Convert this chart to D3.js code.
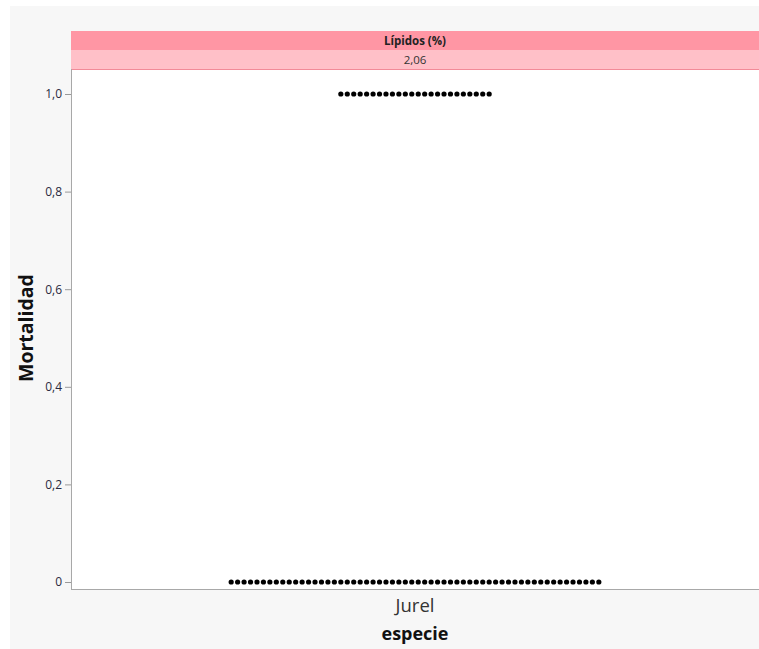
<!DOCTYPE html>
<html><head><meta charset="utf-8">
<script src="https://cdn.jsdelivr.net/npm/d3@7"></script>
<style>body{margin:0;background:#fff;}svg{display:block;font-family:"Segoe UI","Open Sans","Noto Sans",sans-serif;}</style>
</head><body>
<svg id="c" width="759" height="649"></svg>
<script>
const categories = ["Jurel"];
const mortalityLevels = [1, 0];
const mortalityCounts = [24, 58];
const yTicks = [0, 0.2, 0.4, 0.6, 0.8, 1.0];
const yTickLabels = ["0", "0,2", "0,4", "0,6", "0,8", "1,0"];
const groupTitle = "Lípidos (%)";
const groupValue = "2,06";

const svg = d3.select("#c");
const W = 759, H = 649;
const m = {left: 71, right: 759, top: 69, bottom: 589};

svg.append("rect").attr("x", 10).attr("y", 6).attr("width", W - 10).attr("height", H - 6).attr("fill", "#f7f7f7");
svg.append("rect").attr("x", m.left).attr("y", m.top).attr("width", m.right - m.left).attr("height", m.bottom - m.top).attr("fill", "#fff");

// header
svg.append("rect").attr("x", m.left).attr("y", 31).attr("width", m.right - m.left).attr("height", 19).attr("fill", "#ff96a4");
svg.append("rect").attr("x", m.left).attr("y", 50).attr("width", m.right - m.left).attr("height", 19).attr("fill", "#ffc0c8");
svg.append("line").attr("x1", m.left).attr("x2", m.right).attr("y1", 69.5).attr("y2", 69.5).attr("stroke", "#f28a98");
svg.append("text").attr("x", (m.left + m.right) / 2).attr("y", 45).attr("text-anchor", "middle").attr("font-size", 11.5).attr("font-weight", "bold").attr("fill", "#222").text(groupTitle);
svg.append("text").attr("x", (m.left + m.right) / 2).attr("y", 63.5).attr("text-anchor", "middle").attr("font-size", 11.5).attr("fill", "#333").text(groupValue);

const y = d3.scaleLinear().domain([0, 1]).range([582, 94]);
const x = d3.scaleBand().domain(categories).range([m.left, m.right]);

// y axis
const yAxis = svg.append("g").attr("transform", `translate(${m.left},0)`)
  .call(d3.axisLeft(y).tickValues(yTicks).tickFormat((d, i) => yTickLabels[i]).tickSize(6).tickPadding(3));
yAxis.select(".domain").remove();
yAxis.selectAll(".tick line").attr("stroke", "#999");
yAxis.selectAll(".tick text").attr("font-size", 12).attr("fill", "#2a2a40").attr("font-family", "'Segoe UI','Open Sans',sans-serif");

// frame lines
svg.append("line").attr("x1", m.left + 0.5).attr("x2", m.left + 0.5).attr("y1", m.top).attr("y2", m.bottom).attr("stroke", "#a8a8a8");
svg.append("line").attr("x1", m.left).attr("x2", m.right).attr("y1", m.bottom + 0.5).attr("y2", m.bottom + 0.5).attr("stroke", "#a8a8a8");

// x axis label
const xAxis = svg.append("g").attr("transform", `translate(0,${m.bottom})`)
  .call(d3.axisBottom(x).tickSize(0).tickPadding(10));
xAxis.select(".domain").remove();
xAxis.selectAll(".tick text").attr("font-size", 18.5).attr("fill", "#333").attr("font-family", "'Segoe UI','Open Sans',sans-serif");

// dots
const spacing = 6.45;
const pts = [];
mortalityLevels.forEach((lv, i) => {
  const n = mortalityCounts[i];
  const cx = x(categories[0]) + x.bandwidth() / 2;
  for (let k = 0; k < n; k++) pts.push({x: cx + (k - (n - 1) / 2) * spacing, y: y(lv)});
});
svg.append("g").selectAll("circle").data(pts).join("circle")
  .attr("cx", d => d.x).attr("cy", d => d.y).attr("r", 2.6).attr("fill", "#000");

// titles
svg.append("text").attr("x", (m.left + m.right) / 2).attr("y", 640).attr("text-anchor", "middle")
  .attr("font-size", 18).attr("font-weight", "bold").attr("fill", "#111").text("especie");
svg.append("text").attr("transform", "translate(33,328) rotate(-90)").attr("text-anchor", "middle")
  .attr("font-size", 19.5).attr("font-weight", "bold").attr("fill", "#111").text("Mortalidad");
</script>
</body></html>
